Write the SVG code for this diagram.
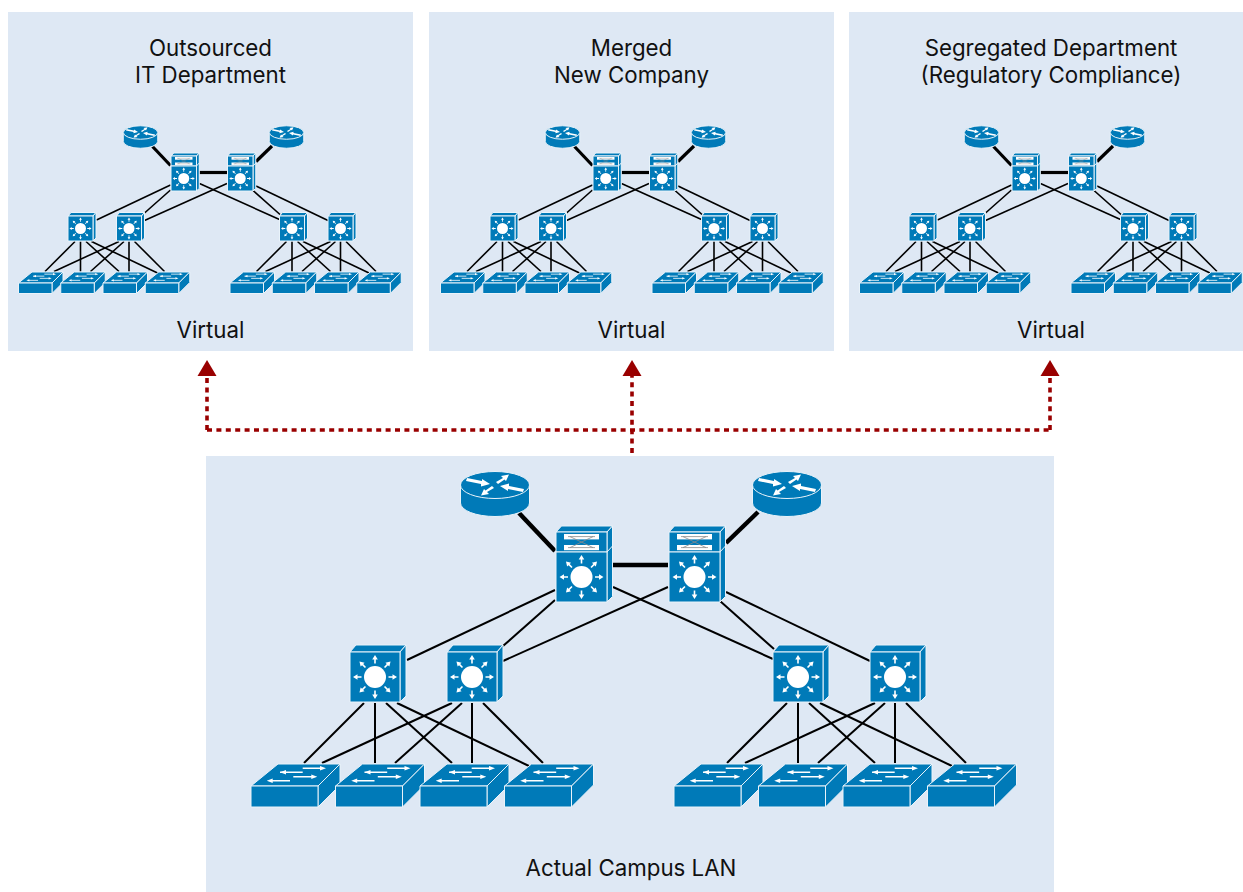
<svg xmlns="http://www.w3.org/2000/svg" width="1243" height="892" viewBox="0 0 1243 892">
<style>
.panel{fill:#dee8f4}
.t{font-family:Inter,"Liberation Sans",Arial,sans-serif;font-size:22.3px;fill:#111;text-anchor:middle}
.b{fill:#007ab8;stroke:#e9f3fa;stroke-width:1;vector-effect:non-scaling-stroke;stroke-linejoin:round}
.w{fill:#fff}
.sl{stroke:#fff;stroke-width:1.6;fill:none}
.g{stroke:#8a8a8a;stroke-width:.8;fill:none}
.thin{stroke:#000;stroke-width:2;fill:none}
.thick{stroke:#000;stroke-width:4.5;fill:none}
.small .thin{stroke-width:3.2}
.small .thick{stroke-width:6.4}
.dash{stroke:#990000;stroke-width:3.6;stroke-dasharray:5 4.4;fill:none}
.head{fill:#990000}
</style>
<defs>
<path id="ray" class="w" d="M-.8,-13.5V-17.500H-2.800L0,-22L2.800,-17.500H.8V-13.500Z"/>
<g id="star">
<circle class="w" r="11"/>
<use href="#ray"/><use href="#ray" transform="rotate(45)"/><use href="#ray" transform="rotate(90)"/><use href="#ray" transform="rotate(135)"/><use href="#ray" transform="rotate(180)"/><use href="#ray" transform="rotate(225)"/><use href="#ray" transform="rotate(270)"/><use href="#ray" transform="rotate(315)"/>
</g>
<g id="router">
<path class="b" d="M-34.5,0V18A34.5,13.5 0 0 0 34.5,18V0Z"/>
<ellipse class="b" rx="34.5" ry="13.5"/>
<path id="ra1" class="w" d="M-28,-7L-13,-4L-13,-6L-5,-1L-14,1.5L-14,-1L-29,-4Z"/>
<path id="ra2" class="w" d="M1,-3L8,-7L6,-9L14,-10.5L11,-4L9.5,-5.5L3,-1Z"/>
<use href="#ra1" transform="rotate(180)"/>
<use href="#ra2" transform="rotate(180)"/>
</g>
<g id="multilayer">
<path class="b" d="M0,-20L5.5,-26H56.5L51,-20Z"/>
<path class="b" d="M51,-20L56.5,-26V44.5L51,50Z"/>
<path class="b" d="M51,0L56.5,-6"/>
<rect class="b" x="0" y="-20" width="51" height="20"/>
<rect class="b" x="0" y="0" width="51" height="50"/>
<rect class="w" x="8" y="-18" width="35" height="5.4"/>
<rect class="w" x="8" y="-7" width="35" height="5.2"/>
<path class="g" d="M12,-15.400H39M12,-4.400H39M14,-15.400L37,-4.400M14,-4.400L37,-15.400"/>
<use href="#star" x="25.5" y="25"/>
</g>
<g id="distribution">
<path class="b" d="M0,0L6,-7H56L50,0Z"/>
<path class="b" d="M50,0L56,-7V44L50,50Z"/>
<rect class="b" x="0" y="0" width="50" height="50"/>
<use href="#star" x="25" y="25"/>
</g>
<g id="access">
<path class="b" d="M0,0L27,-22H89L67,0Z"/>
<path class="b" d="M67,0L89,-22V-1L67,21Z"/>
<rect class="b" x="0" y="0" width="67" height="21"/>
<path class="sl" d="M51.7,-17.7H70M29,-13.7H51.7M42.3,-9.3H61M21,-5.3H39"/>
<path class="w" d="M75,-17.7L69,-20V-15.4ZM29,-13.7L35,-16V-11.4ZM66.3,-9.3L60.3,-11.6V-7ZM15.7,-5.3L21.7,-7.6V-3Z"/>
</g>
</defs>

<rect class="panel" x="8" y="12" width="405" height="339"/>
<rect class="panel" x="429" y="12" width="405" height="339"/>
<rect class="panel" x="849" y="12" width="394" height="339"/>
<rect class="panel" x="206" y="456" width="848" height="436"/>

<g id="labels">
<text class="t" x="210.5" y="55.500">Outsourced</text>
<text class="t" x="210.5" y="82.500">IT Department</text>
<text class="t" x="210.5" y="337.500">Virtual</text>
<text class="t" x="631.5" y="55.500">Merged</text>
<text class="t" x="631.5" y="82.500">New Company</text>
<text class="t" x="631.5" y="337.500">Virtual</text>
<text class="t" x="1051" y="55.500">Segregated Department</text>
<text class="t" x="1051" y="82.500">(Regulatory Compliance)</text>
<text class="t" x="1051" y="337.500">Virtual</text>
<text class="t" x="631" y="875.500">Actual Campus LAN</text>
</g>

<g id="connectors">
<g id="virtual-links">
<path class="dash" d="M207,430V375"/>
<path class="dash" d="M632,453V375"/>
<path class="dash" d="M1050,430V375"/>
<path class="dash" d="M207,430H1050"/>
<path class="head" d="M207,360L216.500,376H197.500Z"/>
<path class="head" d="M632,360L641.500,376H622.500Z"/>
<path class="head" d="M1050,360L1059.500,376H1040.500Z"/>
</g>
<g id="links-actual">
<path class="thick" d="M519,513L555,551"/><path class="thick" d="M758,512L726,543"/><path class="thick" d="M613,565H668"/>
<path class="thin" d="M555,590L407,660"/><path class="thin" d="M555,600L503,646"/><path class="thin" d="M668,587L503,661"/><path class="thin" d="M613,587L773,659"/><path class="thin" d="M720,601L774,649"/><path class="thin" d="M726,592L870,661"/>
<path class="thin" d="M364,703L304,763"/><path class="thin" d="M375,703V763"/><path class="thin" d="M386,703L452,763"/><path class="thin" d="M397,703L529,766"/><path class="thin" d="M452,703L322,763"/><path class="thin" d="M462,703L395,763"/><path class="thin" d="M472,703V763"/><path class="thin" d="M483,703L543,763"/>
<path class="thin" d="M787,703L727,763"/><path class="thin" d="M798,703V763"/><path class="thin" d="M809,703L875,763"/><path class="thin" d="M820,703L952,766"/><path class="thin" d="M875,703L745,763"/><path class="thin" d="M885,703L818,763"/><path class="thin" d="M895,703V763"/><path class="thin" d="M906,703L966,763"/>
</g>
<g id="links-outsourced" class="small" transform="translate(-107,-110) scale(.5)">
<path class="thick" d="M519,513L555,551"/><path class="thick" d="M758,512L726,543"/><path class="thick" d="M613,565H668"/>
<path class="thin" d="M555,590L407,660"/><path class="thin" d="M555,600L503,646"/><path class="thin" d="M668,587L503,661"/><path class="thin" d="M613,587L773,659"/><path class="thin" d="M720,601L774,649"/><path class="thin" d="M726,592L870,661"/>
<path class="thin" d="M364,703L304,763"/><path class="thin" d="M375,703V763"/><path class="thin" d="M386,703L452,763"/><path class="thin" d="M397,703L529,766"/><path class="thin" d="M452,703L322,763"/><path class="thin" d="M462,703L395,763"/><path class="thin" d="M472,703V763"/><path class="thin" d="M483,703L543,763"/>
<path class="thin" d="M787,703L727,763"/><path class="thin" d="M798,703V763"/><path class="thin" d="M809,703L875,763"/><path class="thin" d="M820,703L952,766"/><path class="thin" d="M875,703L745,763"/><path class="thin" d="M885,703L818,763"/><path class="thin" d="M895,703V763"/><path class="thin" d="M906,703L966,763"/>
</g>
<g id="links-merged" class="small" transform="translate(315,-110) scale(.5)">
<path class="thick" d="M519,513L555,551"/><path class="thick" d="M758,512L726,543"/><path class="thick" d="M613,565H668"/>
<path class="thin" d="M555,590L407,660"/><path class="thin" d="M555,600L503,646"/><path class="thin" d="M668,587L503,661"/><path class="thin" d="M613,587L773,659"/><path class="thin" d="M720,601L774,649"/><path class="thin" d="M726,592L870,661"/>
<path class="thin" d="M364,703L304,763"/><path class="thin" d="M375,703V763"/><path class="thin" d="M386,703L452,763"/><path class="thin" d="M397,703L529,766"/><path class="thin" d="M452,703L322,763"/><path class="thin" d="M462,703L395,763"/><path class="thin" d="M472,703V763"/><path class="thin" d="M483,703L543,763"/>
<path class="thin" d="M787,703L727,763"/><path class="thin" d="M798,703V763"/><path class="thin" d="M809,703L875,763"/><path class="thin" d="M820,703L952,766"/><path class="thin" d="M875,703L745,763"/><path class="thin" d="M885,703L818,763"/><path class="thin" d="M895,703V763"/><path class="thin" d="M906,703L966,763"/>
</g>
<g id="links-segregated" class="small" transform="translate(734,-110) scale(.5)">
<path class="thick" d="M519,513L555,551"/><path class="thick" d="M758,512L726,543"/><path class="thick" d="M613,565H668"/>
<path class="thin" d="M555,590L407,660"/><path class="thin" d="M555,600L503,646"/><path class="thin" d="M668,587L503,661"/><path class="thin" d="M613,587L773,659"/><path class="thin" d="M720,601L774,649"/><path class="thin" d="M726,592L870,661"/>
<path class="thin" d="M364,703L304,763"/><path class="thin" d="M375,703V763"/><path class="thin" d="M386,703L452,763"/><path class="thin" d="M397,703L529,766"/><path class="thin" d="M452,703L322,763"/><path class="thin" d="M462,703L395,763"/><path class="thin" d="M472,703V763"/><path class="thin" d="M483,703L543,763"/>
<path class="thin" d="M787,703L727,763"/><path class="thin" d="M798,703V763"/><path class="thin" d="M809,703L875,763"/><path class="thin" d="M820,703L952,766"/><path class="thin" d="M875,703L745,763"/><path class="thin" d="M885,703L818,763"/><path class="thin" d="M895,703V763"/><path class="thin" d="M906,703L966,763"/>
</g>
</g>

<g id="a-r1" transform="translate(495,485)"><use href="#router"/></g>
<g id="a-r2" transform="translate(787,485)"><use href="#router"/></g>
<g id="a-m1" transform="translate(556,552)"><use href="#multilayer"/></g>
<g id="a-m2" transform="translate(669,552)"><use href="#multilayer"/></g>
<g id="a-d1" transform="translate(350,652)"><use href="#distribution"/></g>
<g id="a-d2" transform="translate(447,652)"><use href="#distribution"/></g>
<g id="a-d3" transform="translate(773,652)"><use href="#distribution"/></g>
<g id="a-d4" transform="translate(870,652)"><use href="#distribution"/></g>
<g id="a-s1" transform="translate(251,786)"><use href="#access"/></g>
<g id="a-s2" transform="translate(335.500,786)"><use href="#access"/></g>
<g id="a-s3" transform="translate(420,786)"><use href="#access"/></g>
<g id="a-s4" transform="translate(504.500,786)"><use href="#access"/></g>
<g id="a-s5" transform="translate(674,786)"><use href="#access"/></g>
<g id="a-s6" transform="translate(758.500,786)"><use href="#access"/></g>
<g id="a-s7" transform="translate(843,786)"><use href="#access"/></g>
<g id="a-s8" transform="translate(927.500,786)"><use href="#access"/></g>

<g id="o-r1" transform="translate(140.500,132.500) scale(.5)"><use href="#router"/></g>
<g id="o-r2" transform="translate(286.500,132.500) scale(.5)"><use href="#router"/></g>
<g id="o-m1" transform="translate(171,166) scale(.5)"><use href="#multilayer"/></g>
<g id="o-m2" transform="translate(227.500,166) scale(.5)"><use href="#multilayer"/></g>
<g id="o-d1" transform="translate(68,216) scale(.5)"><use href="#distribution"/></g>
<g id="o-d2" transform="translate(116.500,216) scale(.5)"><use href="#distribution"/></g>
<g id="o-d3" transform="translate(279.500,216) scale(.5)"><use href="#distribution"/></g>
<g id="o-d4" transform="translate(328,216) scale(.5)"><use href="#distribution"/></g>
<g id="o-s1" transform="translate(18.500,283) scale(.5)"><use href="#access"/></g>
<g id="o-s2" transform="translate(60.750,283) scale(.5)"><use href="#access"/></g>
<g id="o-s3" transform="translate(103,283) scale(.5)"><use href="#access"/></g>
<g id="o-s4" transform="translate(145.250,283) scale(.5)"><use href="#access"/></g>
<g id="o-s5" transform="translate(230,283) scale(.5)"><use href="#access"/></g>
<g id="o-s6" transform="translate(272.250,283) scale(.5)"><use href="#access"/></g>
<g id="o-s7" transform="translate(314.500,283) scale(.5)"><use href="#access"/></g>
<g id="o-s8" transform="translate(356.750,283) scale(.5)"><use href="#access"/></g>

<g id="m-r1" transform="translate(562.500,132.500) scale(.5)"><use href="#router"/></g>
<g id="m-r2" transform="translate(708.500,132.500) scale(.5)"><use href="#router"/></g>
<g id="m-m1" transform="translate(593,166) scale(.5)"><use href="#multilayer"/></g>
<g id="m-m2" transform="translate(649.500,166) scale(.5)"><use href="#multilayer"/></g>
<g id="m-d1" transform="translate(490,216) scale(.5)"><use href="#distribution"/></g>
<g id="m-d2" transform="translate(538.500,216) scale(.5)"><use href="#distribution"/></g>
<g id="m-d3" transform="translate(701.500,216) scale(.5)"><use href="#distribution"/></g>
<g id="m-d4" transform="translate(750,216) scale(.5)"><use href="#distribution"/></g>
<g id="m-s1" transform="translate(440.500,283) scale(.5)"><use href="#access"/></g>
<g id="m-s2" transform="translate(482.750,283) scale(.5)"><use href="#access"/></g>
<g id="m-s3" transform="translate(525,283) scale(.5)"><use href="#access"/></g>
<g id="m-s4" transform="translate(567.250,283) scale(.5)"><use href="#access"/></g>
<g id="m-s5" transform="translate(652,283) scale(.5)"><use href="#access"/></g>
<g id="m-s6" transform="translate(694.250,283) scale(.5)"><use href="#access"/></g>
<g id="m-s7" transform="translate(736.500,283) scale(.5)"><use href="#access"/></g>
<g id="m-s8" transform="translate(778.750,283) scale(.5)"><use href="#access"/></g>

<g id="s-r1" transform="translate(981.500,132.500) scale(.5)"><use href="#router"/></g>
<g id="s-r2" transform="translate(1127.500,132.500) scale(.5)"><use href="#router"/></g>
<g id="s-m1" transform="translate(1012,166) scale(.5)"><use href="#multilayer"/></g>
<g id="s-m2" transform="translate(1068.500,166) scale(.5)"><use href="#multilayer"/></g>
<g id="s-d1" transform="translate(909,216) scale(.5)"><use href="#distribution"/></g>
<g id="s-d2" transform="translate(957.500,216) scale(.5)"><use href="#distribution"/></g>
<g id="s-d3" transform="translate(1120.500,216) scale(.5)"><use href="#distribution"/></g>
<g id="s-d4" transform="translate(1169,216) scale(.5)"><use href="#distribution"/></g>
<g id="s-s1" transform="translate(859.500,283) scale(.5)"><use href="#access"/></g>
<g id="s-s2" transform="translate(901.750,283) scale(.5)"><use href="#access"/></g>
<g id="s-s3" transform="translate(944,283) scale(.5)"><use href="#access"/></g>
<g id="s-s4" transform="translate(986.250,283) scale(.5)"><use href="#access"/></g>
<g id="s-s5" transform="translate(1071,283) scale(.5)"><use href="#access"/></g>
<g id="s-s6" transform="translate(1113.250,283) scale(.5)"><use href="#access"/></g>
<g id="s-s7" transform="translate(1155.500,283) scale(.5)"><use href="#access"/></g>
<g id="s-s8" transform="translate(1197.750,283) scale(.5)"><use href="#access"/></g>
</svg>
